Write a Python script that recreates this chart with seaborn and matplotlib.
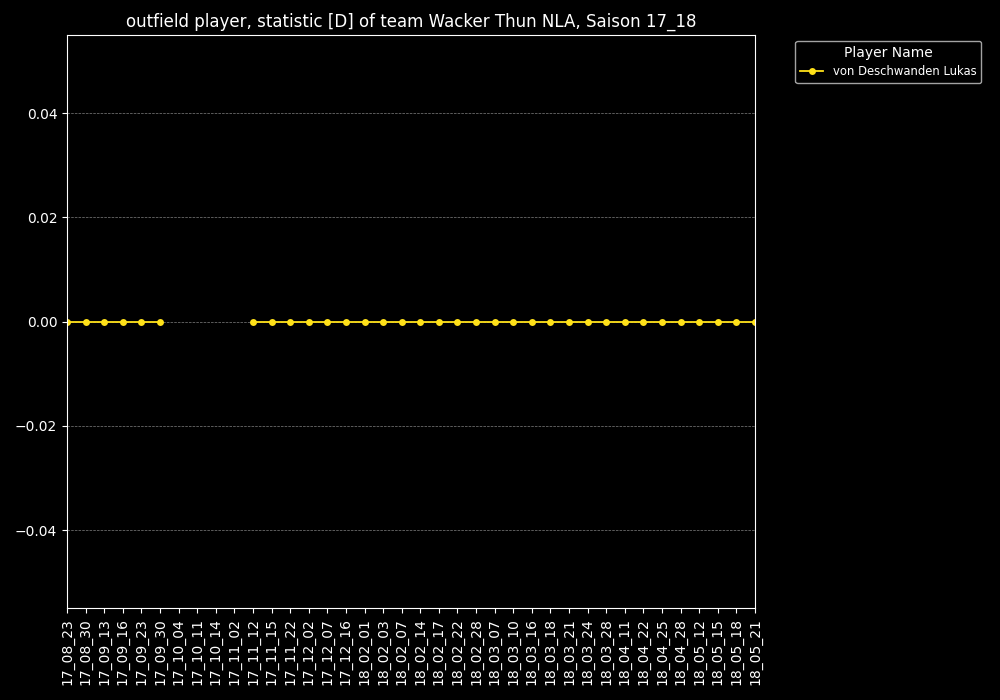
import numpy as np
import pandas as pd
import matplotlib
matplotlib.use("Agg")
import matplotlib.pyplot as plt
import seaborn as sns

# spieltage der saison
dates = ['17_08_23', '17_08_30', '17_09_13', '17_09_16', '17_09_23', '17_09_30',
         '17_10_04', '17_10_11', '17_10_14', '17_11_02', '17_11_12', '17_11_15',
         '17_11_22', '17_12_02', '17_12_07', '17_12_16', '18_02_01', '18_02_03',
         '18_02_07', '18_02_14', '18_02_17', '18_02_22', '18_02_28', '18_03_07',
         '18_03_10', '18_03_16', '18_03_18', '18_03_21', '18_03_24', '18_03_28',
         '18_04_11', '18_04_22', '18_04_25', '18_04_28', '18_05_12', '18_05_15',
         '18_05_18', '18_05_21']

# statistik D, NaN = nicht gespielt
values = [0, 0, 0, 0, 0, 0,
          np.nan, np.nan, np.nan, np.nan,
          0, 0, 0, 0, 0, 0, 0, 0, 0, 0, 0, 0, 0, 0, 0, 0, 0, 0, 0, 0,
          0, 0, 0, 0, 0, 0, 0, 0]

player = 'von Deschwanden Lukas'

df = pd.DataFrame({'idx': range(len(dates)), 'date': dates, 'D': values})
df['Player Name'] = player
# segment-nummer, damit die luecke nicht verbunden wird
df['seg'] = df['D'].isna().cumsum()
df = df.dropna(subset=['D'])

plt.style.use('dark_background')
fig, ax = plt.subplots(figsize=(10, 7), dpi=100)
fig.subplots_adjust(left=0.067, right=0.755, top=0.95, bottom=0.131)

sns.lineplot(data=df, x='idx', y='D', hue='Player Name', units='seg', estimator=None,
             marker='o', markersize=5, markeredgewidth=0, palette=['#FFE119'],
             linewidth=1.3, ax=ax)

ax.set_xlim(0, len(dates) - 1)
ax.set_ylim(-0.055, 0.055)
ax.set_xticks(range(len(dates)))
ax.set_xticklabels(dates, rotation=90)
ax.set_xlabel('')
ax.set_ylabel('')
ax.yaxis.grid(True, linestyle='--', linewidth=0.5, color='gray')
ax.set_title('outfield player, statistic [D] of team Wacker Thun NLA, Saison 17_18', fontsize=12)

leg = ax.legend(title='Player Name', bbox_to_anchor=(1.05, 1), loc='upper left', fontsize=8.4)
leg.get_frame().set_edgecolor('#cccccc')

plt.savefig('out.png')
